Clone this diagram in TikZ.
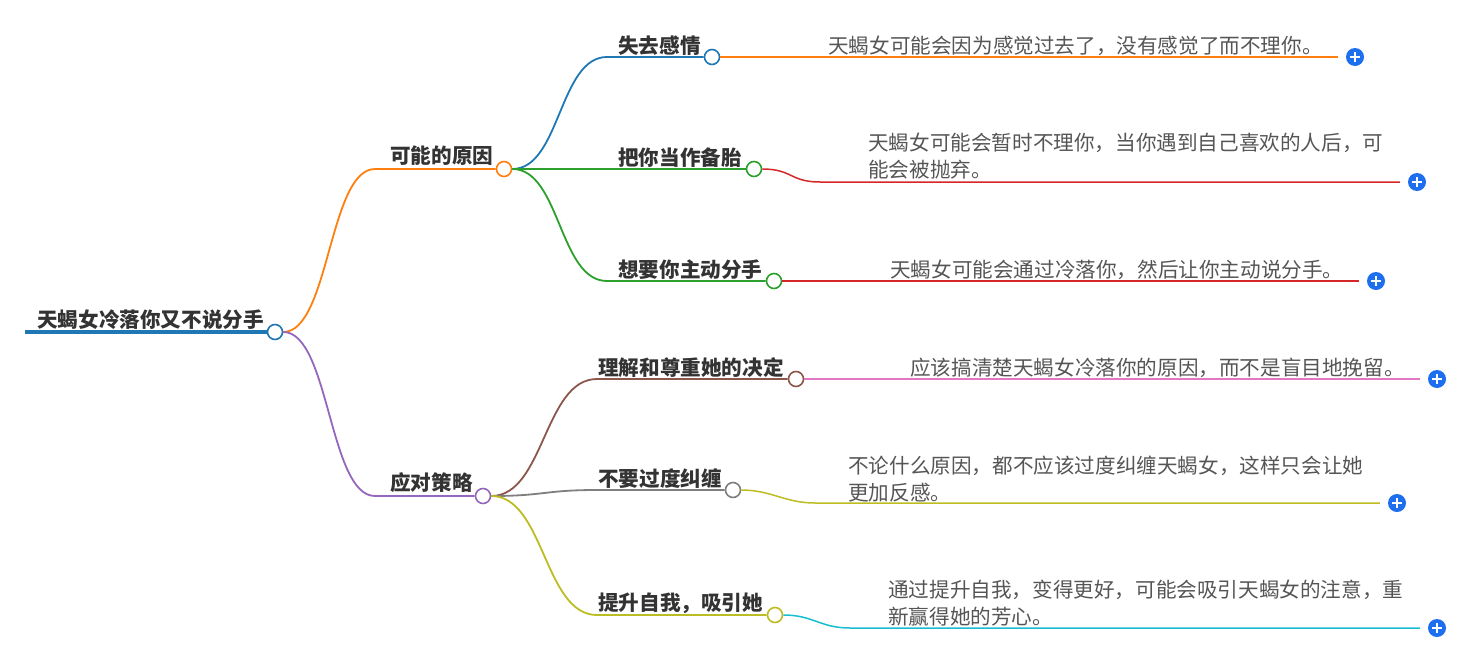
\documentclass[tikz,border=0pt]{standalone}
\usepackage{fontspec}
\newfontfamily\cjk{Noto Sans CJK SC}
\usetikzlibrary{calc}

\definecolor{cblue}{HTML}{1F77B4}
\definecolor{corange}{HTML}{FF7F0E}
\definecolor{cgreen}{HTML}{2CA02C}
\definecolor{cred}{HTML}{D62728}
\definecolor{cpurple}{HTML}{9467BD}
\definecolor{cbrown}{HTML}{8C564B}
\definecolor{cpink}{HTML}{E377C2}
\definecolor{cgray}{HTML}{7F7F7F}
\definecolor{colive}{HTML}{BCBD22}
\definecolor{ccyan}{HTML}{17BECF}
\definecolor{addblue}{HTML}{1E6EF0}
\definecolor{textdark}{HTML}{333333}
\definecolor{textgray}{HTML}{555555}

\begin{document}
\begin{tikzpicture}[
    x=1pt, y=-1pt,
    dot/.style={
        circle,
        draw=#1,
        fill=white,
        line width=1.6pt,
        inner sep=0pt,
        minimum size=15pt
    },
    link/.style={draw=#1, line width=1.8pt},
    twig/.style={draw=#1, line width=1.5pt, shorten >=8pt},
    topic/.style={
        font=\cjk\bfseries\fontsize{20.6}{24}\selectfont,
        text=textdark,
        inner sep=0pt,
        anchor=base west
    },
    leaf/.style={
        font=\cjk\fontsize{20.6}{27}\selectfont,
        text=textgray,
        inner sep=0pt,
        anchor=base west,
        align=left
    },
    add/.style={
        circle,
        fill=addblue,
        inner sep=0pt,
        minimum size=18pt,
        path picture={
            \draw[white, line width=2pt]
                ([xshift=-5pt]path picture bounding box.center) -- ([xshift=5pt]path picture bounding box.center)
                ([yshift=-5pt]path picture bounding box.center) -- ([yshift=5pt]path picture bounding box.center);
        }
    }
]

\useasboundingbox (0,0) rectangle (1470,654);

% Root
\coordinate (rootstart) at (25,332);
\node[dot=cblue] (root) at (275,332) {};
\node[topic] (roottxt) at (37,327) {天蝎女冷落你又不说分手};
\draw[cblue, line width=4pt] (rootstart) -- (root.west);

% First level
\node[dot=corange] (cause)    at (504,169) {};
\node[dot=cpurple] (strategy) at (483,496) {};
\node[topic] (causetxt)    at (390,163) {可能的原因};
\node[topic] (strategytxt) at (390,490) {应对策略};
\coordinate (jcause)    at (375,169);
\coordinate (jstrategy) at (375,496);
\draw[link=corange] (root.east) .. controls +(46,0) and +(-46,0) .. (jcause) -- (cause.west);
\draw[link=cpurple] (root.east) .. controls +(46,0) and +(-46,0) .. (jstrategy) -- (strategy.west);

% Causes
\node[dot=cblue]  (lost)  at (712,57)  {};
\node[dot=cgreen] (spare) at (754,169) {};
\node[dot=cgreen] (quit)  at (774,281) {};
\node[topic] (losttxt)  at (618,53)  {失去感情};
\node[topic] (sparetxt) at (618,165) {把你当作备胎};
\node[topic] (quittxt)  at (618,277) {想要你主动分手};
\coordinate (jlost) at (607,57);
\coordinate (jquit) at (607,281);
\draw[link=cblue] (cause.east) .. controls +(48,0) and +(-48,0) .. (jlost) -- (lost.west);
\draw[link=cgreen] (cause.east) -- (spare.west);
\draw[link=cgreen] (cause.east) .. controls +(48,0) and +(-48,0) .. (jquit) -- (quit.west);

% Strategies
\node[dot=cbrown] (respect) at (796,379) {};
\node[dot=cgray]  (cling)   at (733,490) {};
\node[dot=colive] (improve) at (775,615) {};
\node[topic] (respecttxt) at (598,375) {理解和尊重她的决定};
\node[topic] (clingtxt)   at (598,486) {不要过度纠缠};
\node[topic] (improvetxt) at (598,610) {提升自我，吸引她};
\coordinate (jrespect) at (597,379);
\coordinate (jcling)   at (597,490);
\coordinate (jimprove) at (597,615);
\draw[link=cbrown] (strategy.east) .. controls +(53,0) and +(-53,0) .. (jrespect) -- (respect.west);
\draw[link=cgray] (strategy.east) .. controls +(53,0) and +(-53,0) .. (jcling) -- (cling.west);
\draw[link=colive] (strategy.east) .. controls +(53,0) and +(-53,0) .. (jimprove) -- (improve.west);

% Leaves (two-line texts are placed by their last baseline)
\node[add] (addlost)    at (1355,57)  {};
\node[add] (addspare)   at (1417,182) {};
\node[add] (addquit)    at (1376,281) {};
\node[add] (addrespect) at (1437,379) {};
\node[add] (addcling)   at (1397,503) {};
\node[add] (addimprove) at (1437,628) {};

\node[leaf] (losttip)    at (828,53)  {天蝎女可能会因为感觉过去了，没有感觉了而不理你。};
\node[leaf] (sparetip)   at (868,177) {天蝎女可能会暂时不理你，当你遇到自己喜欢的人后，可\\能会被抛弃。};
\node[leaf] (quittip)    at (890,277) {天蝎女可能会通过冷落你，然后让你主动说分手。};
\node[leaf] (respecttip) at (910,375) {应该搞清楚天蝎女冷落你的原因，而不是盲目地挽留。};
\node[leaf] (clingtip)   at (848,500) {不论什么原因，都不应该过度纠缠天蝎女，这样只会让她\\更加反感。};
\node[leaf] (improvetip) at (888,624) {通过提升自我，变得更好，可能会吸引天蝎女的注意，重\\新赢得她的芳心。};

\coordinate (jspare)   at (820,182);
\coordinate (jclingl)  at (815,503);
\coordinate (jimprovel) at (850,628);
\draw[twig=corange] (lost.east) -- (addlost.west);
\draw[twig=cred] (spare.east) .. controls +(30,0) and +(-30,0) .. (jspare) -- (addspare.west);
\draw[twig=cred] (quit.east) -- (addquit.west);
\draw[twig=cpink] (respect.east) -- (addrespect.west);
\draw[twig=colive] (cling.east) .. controls +(30,0) and +(-30,0) .. (jclingl) -- (addcling.west);
\draw[twig=ccyan] (improve.east) .. controls +(30,0) and +(-30,0) .. (jimprovel) -- (addimprove.west);

\end{tikzpicture}
\end{document}
